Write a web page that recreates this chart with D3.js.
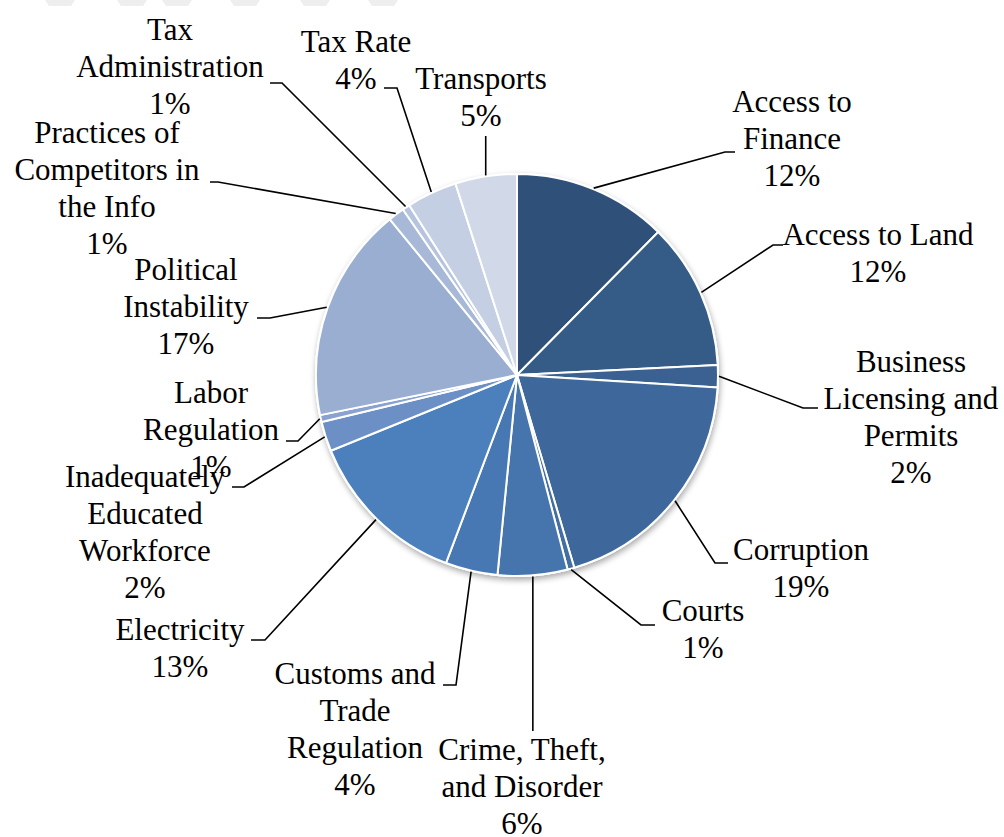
<!DOCTYPE html>
<html>
<head>
<meta charset="utf-8">
<script src="https://cdn.jsdelivr.net/npm/d3@7/dist/d3.min.js"></script>
<style>
  html, body { margin: 0; padding: 0; background: #ffffff; }
  svg { display: block; }
  text { font-family: "Liberation Serif", "Times New Roman", serif; fill: #000; }
</style>
</head>
<body>
<svg id="chart" width="1004" height="837"></svg>
<script>
// Obstacles reported by firms (share of responses, %), clockwise from 12 o'clock
const categories = [
  "Access to Finance", "Access to Land", "Business Licensing and Permits",
  "Corruption", "Courts", "Crime, Theft, and Disorder",
  "Customs and Trade Regulation", "Electricity",
  "Inadequately Educated Workforce", "Labor Regulation",
  "Political Instability", "Practices of Competitors in the Info",
  "Tax Administration", "Tax Rate", "Transports"
];
const values = [12.4, 11.8, 1.8, 19.4, 0.55, 5.6, 4.2, 13.1, 2.4, 0.55, 17.3, 1.3, 0.6, 4.05, 4.95];

// Label text broken into display lines
const labelLines = [
  ["Access to", "Finance"], ["Access to Land"], ["Business", "Licensing and", "Permits"],
  ["Corruption"], ["Courts"], ["Crime, Theft,", "and Disorder"],
  ["Customs and", "Trade", "Regulation"], ["Electricity"],
  ["Inadequately", "Educated", "Workforce"], ["Labor", "Regulation"],
  ["Political", "Instability"], ["Practices of", "Competitors in", "the Info"],
  ["Tax", "Administration"], ["Tax Rate"], ["Transports"]
];

const colors = [
  "#2f5179", "#355b87", "#3a6191", "#3e689b", "#426ea3", "#4674ac",
  "#4878b3", "#4b80bd", "#6c8fc6", "#8aa2cf", "#9aaed2", "#a8b9d8",
  "#b6c4df", "#c4cfe4", "#d1d9e9"
];

// Label placement: text centre x, first baseline y, elbow point and short tail end
const labelLayout = [
  { x: 792, y: 112, elbow: [725, 152], tail: [735, 152] },
  { x: 878, y: 245, elbow: [773, 245], tail: [783, 245] },
  { x: 911, y: 372, elbow: [803, 408], tail: [818, 408] },
  { x: 801, y: 560, elbow: [715, 563], tail: [728, 563] },
  { x: 703, y: 621, elbow: [641, 625], tail: [655, 625] },
  { x: 522, y: 760, elbow: null,       tail: [534, 731] },
  { x: 355, y: 684, elbow: [456, 685], tail: [443, 685] },
  { x: 180, y: 640, elbow: [265, 640], tail: [251, 640] },
  { x: 145, y: 487, elbow: [244, 487], tail: [232, 487] },
  { x: 211, y: 403, elbow: [298, 441], tail: [286, 441] },
  { x: 186, y: 280, elbow: [270, 318], tail: [257, 318] },
  { x: 107, y: 143, elbow: [218, 182], tail: [210, 182] },
  { x: 170, y: 40,  elbow: [282, 83],  tail: [270, 83] },
  { x: 356, y: 52,  elbow: [397, 88],  tail: [384, 88] },
  { x: 481, y: 89,  elbow: null,       tail: [485, 136] }
];

const svg = d3.select("#chart");
const cx = 517, cy = 375, radius = 201;
const total = d3.sum(values);

// faint decorative strip along the top edge
const topMarks = [45, 117, 162, 230, 300, 368];
svg.append("g").selectAll("path").data(topMarks).enter().append("path")
  .attr("d", d => `M${d},0 L${d + 30},0 L${d + 26},6 L${d + 4},6 Z`)
  .attr("fill", "#eeeeee");

const defs = svg.append("defs");
const shadow = defs.append("filter").attr("id", "pieShadow")
  .attr("x", "-10%").attr("y", "-10%").attr("width", "120%").attr("height", "125%");
shadow.append("feGaussianBlur").attr("in", "SourceAlpha").attr("stdDeviation", 3).attr("result", "b");
shadow.append("feOffset").attr("in", "b").attr("dx", 1).attr("dy", 3).attr("result", "o");
shadow.append("feComponentTransfer").attr("in", "o").attr("result", "s")
  .append("feFuncA").attr("type", "linear").attr("slope", 0.35);
const merge = shadow.append("feMerge");
merge.append("feMergeNode").attr("in", "s");
merge.append("feMergeNode").attr("in", "SourceGraphic");

const pie = d3.pie().sort(null).value(d => d);
const arcs = pie(values);
const arc = d3.arc().innerRadius(0).outerRadius(radius);

const g = svg.append("g").attr("transform", `translate(${cx},${cy})`);

// shadowed disc behind the slices
g.append("circle").attr("r", radius + 1).attr("fill", "#ffffff")
  .attr("filter", "url(#pieShadow)");

g.selectAll("path.slice").data(arcs).enter().append("path")
  .attr("class", "slice")
  .attr("d", arc)
  .attr("fill", (d, i) => colors[i])
  .attr("stroke", "#ffffff")
  .attr("stroke-width", 2)
  .attr("stroke-linejoin", "round");

// leader lines from each slice's outer mid-point
const leaders = svg.append("g").attr("fill", "none").attr("stroke", "#000").attr("stroke-width", 1.6);
arcs.forEach((d, i) => {
  const mid = (d.startAngle + d.endAngle) / 2;
  const px = cx + Math.sin(mid) * (radius + 1);
  const py = cy - Math.cos(mid) * (radius + 1);
  const L = labelLayout[i];
  const pts = [[px, py]];
  if (L.elbow) pts.push(L.elbow, L.tail);
  else pts.push([px, L.tail[1]]);
  leaders.append("path").attr("d", d3.line()(pts));
});

// labels: name lines plus rounded share
const labels = svg.append("g").attr("font-size", 31).attr("text-anchor", "middle");
arcs.forEach((d, i) => {
  const L = labelLayout[i];
  const lines = labelLines[i].concat([Math.round(values[i] / total * 100) + "%"]);
  const t = labels.append("text").attr("x", L.x).attr("y", L.y);
  lines.forEach((s, k) => {
    t.append("tspan").attr("x", L.x).attr("dy", k === 0 ? 0 : 37).text(s);
  });
});
</script>
</body>
</html>
